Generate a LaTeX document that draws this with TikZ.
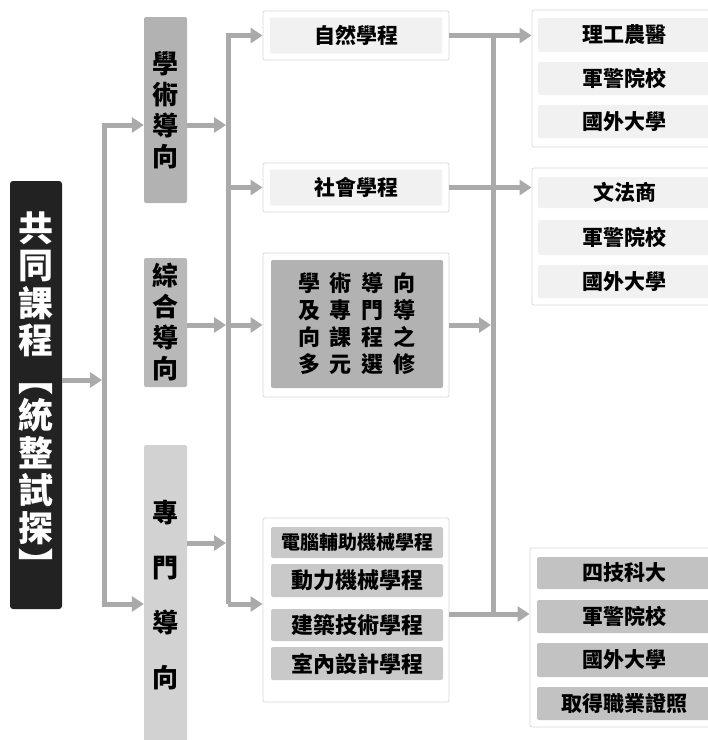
\documentclass[tikz,border=0pt]{standalone}
\usepackage{fontspec}
\newfontfamily\cjk{Noto Sans CJK TC}
\usetikzlibrary{arrows.meta}
\definecolor{linegray}{HTML}{AAAAAA}
\definecolor{bordergray}{HTML}{DADADA}
\definecolor{palefill}{HTML}{F1F1F1}
\definecolor{midfill}{HTML}{B2B2B2}
\definecolor{combfill}{HTML}{B8B8B8}
\definecolor{lightfill}{HTML}{C9C9C9}
\definecolor{rightfill}{HTML}{C2C2C2}
\definecolor{darkbox}{HTML}{222222}
\definecolor{zmfill}{HTML}{D2D2D2}
\begin{document}
\begin{tikzpicture}[x=1pt,y=-1pt,
  conn/.style={draw=linegray,line width=5pt},
  arr/.style={conn,-{Triangle[length=12pt,width=15pt]}},
  outerbox/.style={draw=bordergray,fill=white,line width=0.8pt,rounded corners=2pt,inner sep=0pt},
  cell/.style={rounded corners=2pt,inner sep=0pt,font=\cjk\bfseries\fontsize{21}{25}\selectfont},
  colbox/.style={rounded corners=2pt,inner sep=0pt,align=center,minimum width=43pt,font=\cjk\bfseries\fontsize{26}{31}\selectfont},
]
\useasboundingbox[fill=white] (0,0) rectangle (708,740);

% left title
\node[fill=darkbox,text=white,rounded corners=3pt,minimum width=52pt,minimum height=428pt,inner sep=0pt,align=center,
  font=\cjk\bfseries\fontsize{35}{37.5}\selectfont] (gc) at (36,395)
  {共\\同\\課\\程\\︻\\統\\整\\試\\探\\︼};

% second column
\node[colbox,fill=midfill,minimum height=186pt] (xs) at (165.5,110) {學\\術\\導\\向};
\node[colbox,fill=combfill,minimum height=129pt] (zh) at (165.5,322.5) {綜\\合\\導\\向};
\node[colbox,fill=zmfill,minimum height=300pt,font=\cjk\bfseries\fontsize{26}{55}\selectfont] (zmd) at (165.5,595) {專\\門\\導\\向};

% third column
\node[outerbox,minimum width=186pt,minimum height=49pt] (zro) at (356,35.5) {};
\node[cell,fill=palefill,minimum width=172pt,minimum height=36pt] (zr) at (356,35.5) {自然學程};
\node[outerbox,minimum width=186pt,minimum height=49pt] (sho) at (356,187.5) {};
\node[cell,fill=palefill,minimum width=172pt,minimum height=36pt] (sh) at (356,187.5) {社會學程};

\node[outerbox,minimum width=186pt,minimum height=144pt] (dy) at (356,325) {};
\node[cell,fill=midfill,minimum width=172pt,minimum height=128pt,align=center,
  font=\cjk\bfseries\fontsize{22}{27}\selectfont] (dyi) at (357,324)
  {\makebox[32pt]{學}\makebox[32pt]{術}\makebox[32pt]{導}\makebox[32pt]{向}\\
   \makebox[32pt]{及}\makebox[32pt]{專}\makebox[32pt]{門}\makebox[32pt]{導}\\
   \makebox[32pt]{向}\makebox[32pt]{課}\makebox[32pt]{程}\makebox[32pt]{之}\\
   \makebox[32pt]{多}\makebox[32pt]{元}\makebox[32pt]{選}\makebox[32pt]{修}};

\node[outerbox,minimum width=186pt,minimum height=184pt] (zmb) at (356,610) {};
\node[cell,fill=lightfill,minimum width=172pt,minimum height=31pt,font=\cjk\bfseries\fontsize{19}{23}\selectfont] (e1) at (357,542.5) {電腦輔助機械學程};
\node[cell,fill=lightfill,minimum width=172pt,minimum height=33pt,font=\cjk\bfseries\fontsize{22}{26}\selectfont] (e2) at (357,580.5) {動力機械學程};
\node[cell,fill=lightfill,minimum width=172pt,minimum height=32pt,font=\cjk\bfseries\fontsize{22}{26}\selectfont] (e3) at (357,625) {建築技術學程};
\node[cell,fill=lightfill,minimum width=172pt,minimum height=33pt,font=\cjk\bfseries\fontsize{22}{26}\selectfont] (e4) at (357,663.5) {室內設計學程};

% right column
\node[outerbox,minimum width=184pt,minimum height=137pt] (b1) at (624,78.5) {};
\node[cell,fill=palefill,minimum width=173pt,minimum height=34pt] (r11) at (624.5,35) {理工農醫};
\node[cell,fill=palefill,minimum width=173pt,minimum height=33pt] (r12) at (624.5,78.5) {軍警院校};
\node[cell,fill=palefill,minimum width=173pt,minimum height=33pt] (r13) at (624.5,121.5) {國外大學};

\node[outerbox,minimum width=184pt,minimum height=137pt] (b2) at (624,236.5) {};
\node[cell,fill=palefill,minimum width=173pt,minimum height=31pt] (r21) at (624.5,192.5) {文法商};
\node[cell,fill=palefill,minimum width=173pt,minimum height=35pt] (r22) at (624.5,237.5) {軍警院校};
\node[cell,fill=palefill,minimum width=173pt,minimum height=33pt] (r23) at (624.5,281.5) {國外大學};

\node[outerbox,minimum width=186pt,minimum height=179pt] (b3) at (623,637.5) {};
\node[cell,fill=rightfill,minimum width=175pt,minimum height=32pt] (r31) at (624.5,573) {四技科大};
\node[cell,fill=rightfill,minimum width=175pt,minimum height=33pt] (r32) at (624.5,616.5) {軍警院校};
\node[cell,fill=rightfill,minimum width=175pt,minimum height=34pt] (r33) at (624.5,660) {國外大學};
\node[cell,fill=rightfill,minimum width=175pt,minimum height=33pt] (r34) at (624.5,703.5) {取得職業證照};

% trunk coordinates
\coordinate (t1mid) at (104,380);
\coordinate (t1top) at (104,125);
\coordinate (t1bot) at (104,604);
\coordinate (t2top) at (228,35.5);
\coordinate (t2bot) at (228,604);
\coordinate (t2xs) at (228,125);
\coordinate (t2zm) at (228,543);
\coordinate (t3bot) at (493,614);

% connectors, left
\draw[arr,shorten >=2pt] (gc.east |- t1mid) -- (t1mid);
\draw[arr] (t1mid) |- (xs.west |- t1top);
\draw[arr] (t1mid) |- (zmd.west |- t1bot);

% connectors, middle
\draw[arr,shorten >=2pt] (xs.east |- t2xs) -- (t2xs);
\draw[arr,shorten >=2pt] (zh.east |- dy.west) -- (t2top |- dy.west);
\draw[arr,shorten >=2pt] (zmd.east |- t2zm) -- (t2zm);
\draw[arr] (t2bot) |- (zro.west);
\draw[arr] (t2top |- sho.west) -- (sho.west);
\draw[arr] (t2top |- dy.west) -- (dy.west);
\draw[arr] (t2bot) -- (zmb.west |- t2bot);

% connectors, right
\draw[conn] (zro.east) -| (t3bot);
\draw[arr] (zro.east) -- (b1.west |- zro.east);
\draw[arr] (sho.east) -- (b2.west |- sho.east);
\draw[arr,shorten >=2pt] (dy.east) -- (t3bot |- dy.east);
\draw[arr] (zmb.east |- t3bot) -- (b3.west |- t3bot);
\end{tikzpicture}
\end{document}
